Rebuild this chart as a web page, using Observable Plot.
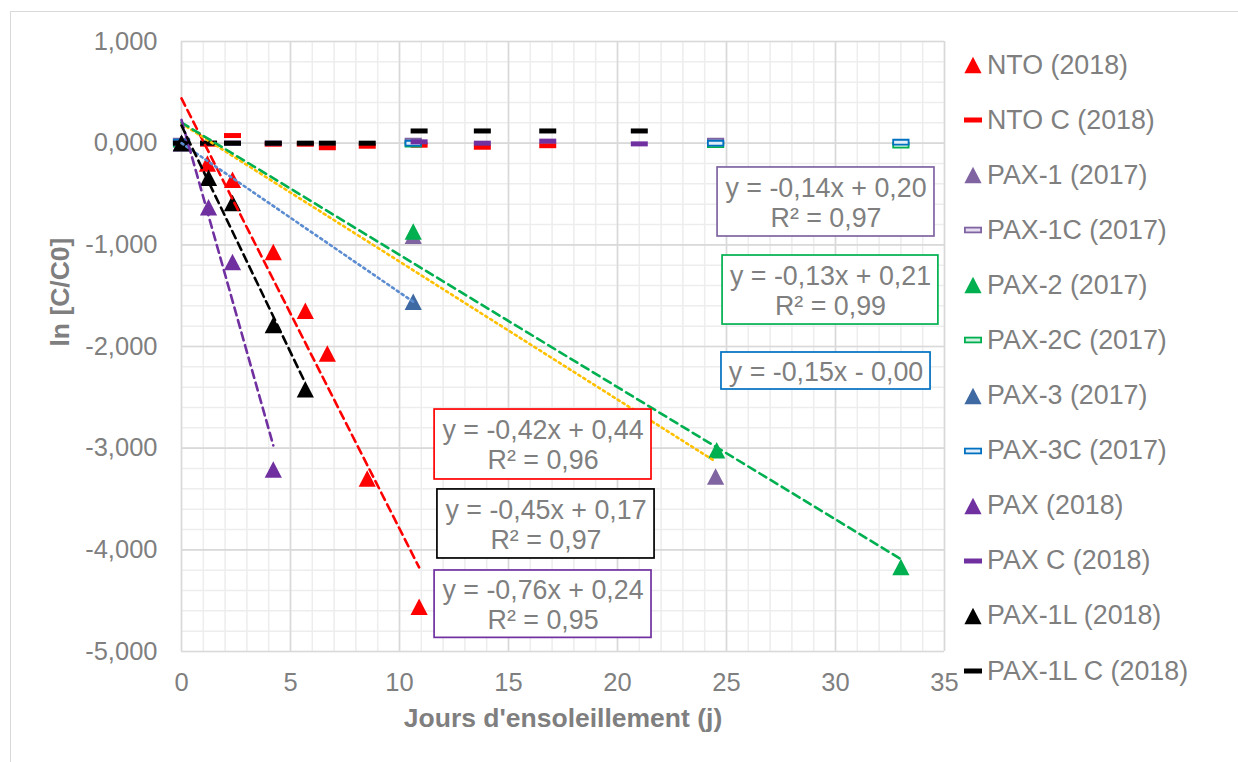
<!DOCTYPE html>
<html><head><meta charset="utf-8">
<script src="https://cdn.jsdelivr.net/npm/d3@7"></script>
<script src="https://cdn.jsdelivr.net/npm/@observablehq/plot@0.6"></script>
<style>
html,body{margin:0;padding:0;background:#fff;overflow:hidden}
#wrap{position:relative;width:1238px;height:762px;font-family:"Liberation Sans",Arial,sans-serif}
#frame{position:absolute;left:10px;top:11px;width:1300px;height:800px;border:1.7px solid #d9d9d9;box-sizing:border-box}
#chart{position:absolute;left:0;top:0}
#legend{position:absolute;left:963px;top:37.5px}
.row{display:flex;align-items:center;height:55.09px;font-size:26.8px;color:#7f7f7f;white-space:nowrap;line-height:1}
.row svg{width:20px;height:20px;margin-right:4px;flex:none}
</style></head><body>
<div id="wrap"><div id="frame"></div><div id="chart"></div><div id="legend"></div></div>
<script>
// ---- data ----
const ntoX = [0, 1.19, 2.34, 4.21, 5.68, 6.69, 8.52, 10.9];
const ntoY = [0, -0.20, -0.36, -1.07, -1.65, -2.07, -3.30, -4.56];
const ntoCX = [0, 1.24, 2.34, 4.21, 5.68, 6.69, 8.52, 10.9, 13.8, 16.8];
const ntoCY = [0, -0.01, 0.075, -0.01, -0.01, -0.045, -0.03, -0.02, -0.04, -0.025];
const pax1X = [0, 10.63, 24.5];
const pax1Y = [0, -0.91, -3.28];
const pax1CX = [0, 10.63, 24.5];
const pax1CY = [0.02, 0.02, 0.02];
const pax2X = [0, 10.63, 24.55, 33.0];
const pax2Y = [0, -0.87, -3.02, -4.17];
const pax2CX = [0, 10.63, 24.5, 33.0];
const pax2CY = [-0.01, -0.01, -0.015, -0.02];
const pax3X = [0, 10.63];
const pax3Y = [0, -1.56];
const pax3CX = [0, 10.63, 24.5, 33.0];
const pax3CY = [0.01, 0.0, 0.0, 0.01];
const paxX = [0, 1.24, 2.34, 4.21];
const paxY = [0, -0.63, -1.17, -3.21];
const paxCX = [0, 1.24, 2.34, 4.21, 10.9, 13.8, 16.8, 21.0];
const paxCY = [0, 0, 0, 0, 0.013, 0, 0.02, -0.007];
const pax1LX = [0, 1.24, 2.34, 4.21, 5.68];
const pax1LY = [0, -0.34, -0.59, -1.79, -2.42];
const pax1LCX = [0, 1.24, 2.34, 4.21, 5.68, 6.69, 8.52, 10.9, 13.8, 16.8, 21.0];
const pax1LCY = [0, 0, 0, 0, 0, 0, 0, 0.12, 0.12, 0.12, 0.12];

const seriesNames = ["NTO (2018)", "NTO C (2018)", "PAX-1 (2017)", "PAX-1C (2017)", "PAX-2 (2017)", "PAX-2C (2017)",
  "PAX-3 (2017)", "PAX-3C (2017)", "PAX (2018)", "PAX C (2018)", "PAX-1L (2018)", "PAX-1L C (2018)"];
const seriesKinds = ["tri", "dash", "tri", "hollow", "tri", "hollow", "tri", "hollow", "tri", "dash", "tri", "dash"];
const seriesColors = ["#FF0000", "#FF0000", "#8064A2", "#8064A2", "#00B050", "#00B050", "#3F69A2", "#0070C0", "#7030A0", "#7030A0", "#000000", "#000000"];
const hollowFills = {"#8064A2": "#e6def0", "#00B050": "#d2f2df", "#0070C0": "#e2eef9"};

const xTicks = [0, 5, 10, 15, 20, 25, 30, 35];
const yTicks = [1, 0, -1, -2, -3, -4, -5];
const xTitle = "Jours d'ensoleillement (j)";
const yTitle = "ln [C/C0]";

const eqTexts = ["y = -0,14x + 0,20\nR² = 0,97", "y = -0,13x + 0,21\nR² = 0,99", "y = -0,15x - 0,00",
  "y = -0,42x + 0,44\nR² = 0,96", "y = -0,45x + 0,17\nR² = 0,97", "y = -0,76x + 0,24\nR² = 0,95"];
const eqColors = ["#8064A2", "#00B050", "#0070C0", "#FF0000", "#000000", "#7030A0"];
// label box placement (data coordinates)
const eqX1 = [24.59, 24.82, 24.77, 11.61, 11.74, 11.61];
const eqX2 = [34.54, 34.72, 34.36, 21.56, 21.70, 21.56];
const eqY1 = [-0.239, -1.105, -2.059, -2.620, -3.406, -4.203];
const eqY2 = [-0.918, -1.784, -2.423, -3.308, -4.085, -4.866];

// ---- build ----
const pts = (xs, ys) => xs.map((x, i) => ({x, y: ys[i]}));
function trend(xs, ys) {
  const mx = d3.mean(xs), my = d3.mean(ys);
  const b = d3.sum(xs, (x, i) => (x - mx) * (ys[i] - my)) / d3.sum(xs, x => (x - mx) ** 2);
  const a = my - b * mx;
  const lo = d3.min(xs), hi = d3.max(xs);
  return [{x: lo, y: a + b * lo}, {x: hi, y: a + b * hi}];
}
const triSym = {draw(c) { c.moveTo(0, -8.3); c.lineTo(8.6, 8.2); c.lineTo(-8.6, 8.2); c.closePath(); }};
const dashSym = {draw(c) { c.rect(-8.5, -2.5, 17, 5); }};
const hollowSym = {draw(c) { c.rect(-7.7, -2.4, 15.4, 4.8); }};

const seriesData = [
  pts(ntoX, ntoY), pts(ntoCX, ntoCY), pts(pax1X, pax1Y), pts(pax1CX, pax1CY), pts(pax2X, pax2Y), pts(pax2CX, pax2CY),
  pts(pax3X, pax3Y), pts(pax3CX, pax3CY), pts(paxX, paxY), pts(paxCX, paxCY), pts(pax1LX, pax1LY), pts(pax1LCX, pax1LCY)
];
const dotMarks = seriesData.map((data, i) => {
  const k = seriesKinds[i], col = seriesColors[i];
  if (k === "tri") return Plot.dot(data, {x: "x", y: "y", symbol: triSym, fill: col, r: 7});
  if (k === "dash") return Plot.dot(data, {x: "x", y: "y", symbol: dashSym, fill: col, r: 7});
  return Plot.dot(data, {x: "x", y: "y", symbol: hollowSym, fill: hollowFills[col], stroke: col, strokeWidth: 1.8, r: 7});
});

const trendSpecs = [
  {xs: ntoX, ys: ntoY, color: "#FF0000", dash: "8,5"},
  {xs: pax1X, ys: pax1Y, color: "#FFC000", dash: "2.2,3.6"},
  {xs: pax2X, ys: pax2Y, color: "#00B050", dash: "8,5"},
  {xs: pax3X, ys: pax3Y, color: "#5B8BD0", dash: "2.2,3.6"},
  {xs: paxX, ys: paxY, color: "#7030A0", dash: "8,5"},
  {xs: pax1LX, ys: pax1LY, color: "#000000", dash: "8,5"}
];
const trendMarks = trendSpecs.map(s => Plot.line(trend(s.xs, s.ys), {x: "x", y: "y", stroke: s.color, strokeWidth: 2.6, strokeDasharray: s.dash}));

const eqBoxes = eqTexts.map((t, i) => ({text: t, color: eqColors[i], x1: eqX1[i], x2: eqX2[i], y1: eqY1[i], y2: eqY2[i]}));

const fmtY = d3.formatLocale({decimal: ",", thousands: "\u00a0", grouping: [3], currency: ["", ""], minus: "-"}).format(".3f");

const chart = Plot.plot({
  width: 1238, height: 762,
  marginLeft: 181, marginRight: 294, marginTop: 41, marginBottom: 111,
  x: {domain: [0, 35]},
  y: {domain: [-5, 1]},
  color: {type: "identity"},
  style: {fontFamily: "'Liberation Sans', Arial, sans-serif", fontSize: "25.5px", color: "#7f7f7f", background: "transparent", overflow: "visible"},
  marks: [
    Plot.ruleX(d3.range(0, 35.001, 1), {stroke: "#ededed", strokeWidth: 1.5}),
    Plot.ruleY(d3.range(-5, 1.0001, 0.2), {stroke: "#ededed", strokeWidth: 1.5}),
    Plot.ruleX(xTicks, {stroke: "#d9d9d9", strokeWidth: 1.6}),
    Plot.ruleY(yTicks, {stroke: "#d9d9d9", strokeWidth: 1.6}),
    Plot.axisX({ticks: xTicks, tickSize: 0, tickPadding: 21, label: null, tickFormat: d => String(d)}),
    Plot.axisY({ticks: yTicks, tickSize: 0, tickPadding: 24, label: null, tickFormat: fmtY}),
    ...dotMarks,
    ...trendMarks,
    Plot.rect(eqBoxes, {x1: "x1", x2: "x2", y1: "y1", y2: "y2", fill: "white", stroke: "color", strokeWidth: 1.7}),
    Plot.text(eqBoxes, {x: d => (d.x1 + d.x2) / 2, y: d => (d.y1 + d.y2) / 2, text: "text", fontSize: 26.8, lineHeight: 1.12, fill: "#7f7f7f"}),
    Plot.text([xTitle], {text: d => d, frameAnchor: "bottom", dy: 75, fontSize: 26.5, fontWeight: "bold", fill: "#7f7f7f"}),
    Plot.text([yTitle], {text: d => d, frameAnchor: "left", dx: -121, rotate: -90, fontSize: 26.5, fontWeight: "bold", fill: "#7f7f7f"})
  ]
});
document.getElementById("chart").appendChild(chart);

// legend
const legend = document.getElementById("legend");
seriesNames.forEach((name, i) => {
  const k = seriesKinds[i], col = seriesColors[i];
  let shape;
  if (k === "tri") shape = `<path d="M0,-8.3L8.6,8.2L-8.6,8.2Z" fill="${col}"/>`;
  else if (k === "dash") shape = `<rect x="-9" y="-2.5" width="18" height="5" fill="${col}"/>`;
  else shape = `<rect x="-8.1" y="-2.4" width="16.2" height="4.8" fill="${hollowFills[col]}" stroke="${col}" stroke-width="1.8"/>`;
  const row = document.createElement("div");
  row.className = "row";
  row.innerHTML = `<svg viewBox="-10 -10 20 20">${shape}</svg><span>${name}</span>`;
  legend.appendChild(row);
});
</script>
</body></html>
